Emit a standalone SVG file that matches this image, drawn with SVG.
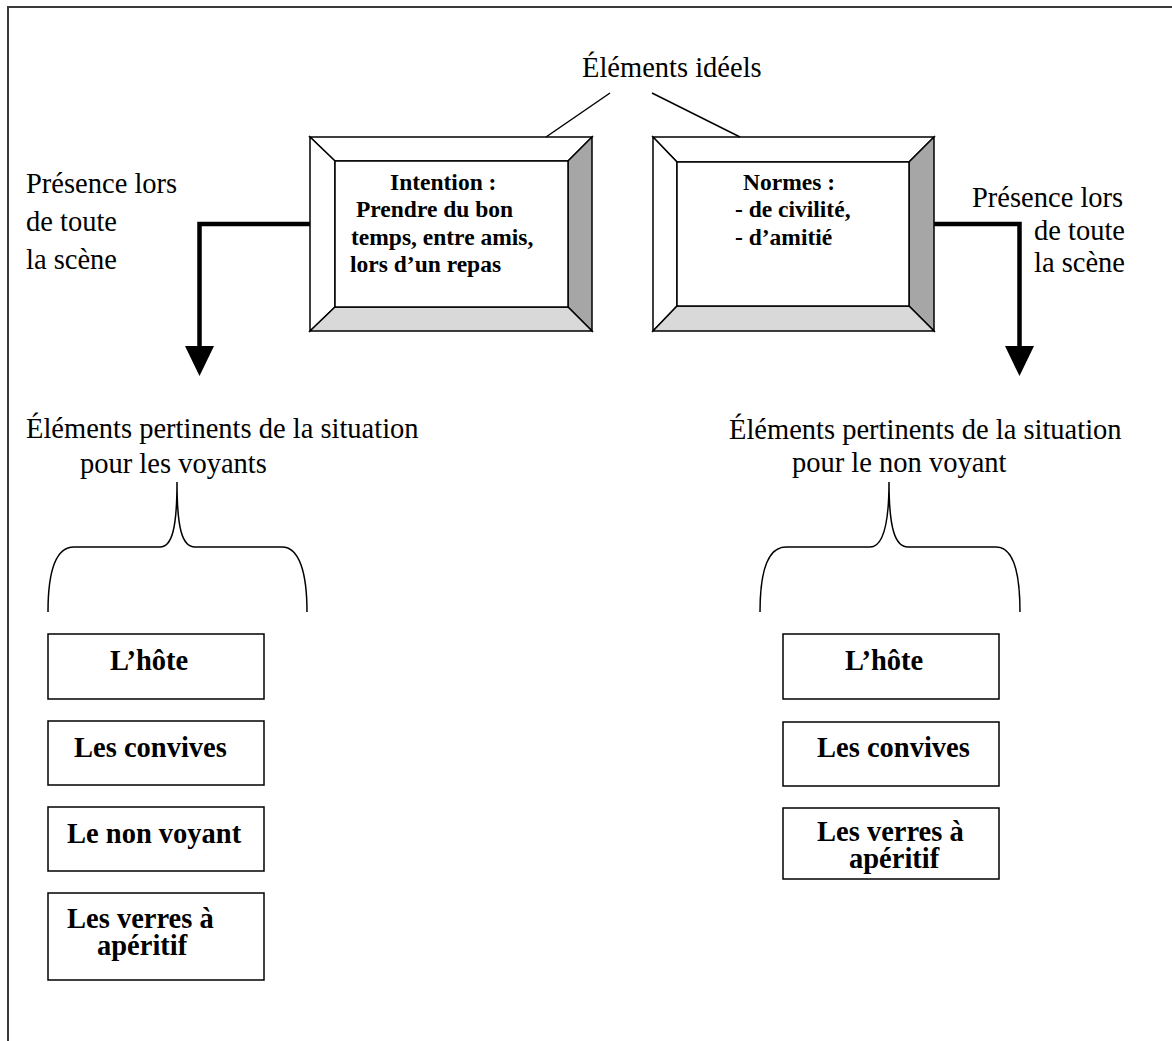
<svg xmlns="http://www.w3.org/2000/svg" width="1172" height="1041" viewBox="0 0 1172 1041">
<style>
.lbl{font-family:"Liberation Serif","Times New Roman",serif;font-size:28.5px;fill:#000}
.bt{font-family:"Liberation Serif","Times New Roman",serif;font-size:23.5px;font-weight:bold;fill:#000}
.bb{font-family:"Liberation Serif","Times New Roman",serif;font-size:28.5px;font-weight:bold;fill:#000}
.edge{stroke:#000;stroke-width:1.5;stroke-linejoin:miter}
.box{fill:#fff;stroke:#000;stroke-width:1.5}
.thick{fill:none;stroke:#000;stroke-width:4.5}
.thin{fill:none;stroke:#000;stroke-width:1.5}
</style>
<rect width="1172" height="1041" fill="#fff"/>
<path d="M8,1041 V7 H1172" fill="none" stroke="#3a3a3a" stroke-width="2"/>

<g id="title">
<text class="lbl" x="582" y="77">Éléments idéels</text>
</g>

<g id="box-intention">
<polygon class="edge" points="310,137 592,137 568,161 335,161" fill="#fff"/>
<polygon class="edge" points="310,137 335,161 335,307 310,331" fill="#fff"/>
<polygon class="edge" points="592,137 592,331 568,307 568,161" fill="#a6a6a6"/>
<polygon class="edge" points="310,331 335,307 568,307 592,331" fill="#d9d9d9"/>
<rect class="box" x="335" y="161" width="233" height="146"/>
<text class="bt" x="390" y="190">Intention :</text>
<text class="bt" x="356" y="217">Prendre du bon</text>
<text class="bt" x="351" y="245">temps, entre amis,</text>
<text class="bt" x="350" y="272">lors d’un repas</text>
</g>

<g id="box-normes">
<polygon class="edge" points="653,137 934,137 909,162 677,162" fill="#fff"/>
<polygon class="edge" points="653,137 677,162 677,306 653,331" fill="#fff"/>
<polygon class="edge" points="934,137 934,331 909,306 909,162" fill="#a6a6a6"/>
<polygon class="edge" points="653,331 677,306 909,306 934,331" fill="#d9d9d9"/>
<rect class="box" x="677" y="162" width="232" height="144"/>
<text class="bt" x="743" y="190">Normes :</text>
<text class="bt" x="735" y="217">- de civilité,</text>
<text class="bt" x="735" y="245">- d’amitié</text>
</g>

<g id="label-presence-left">
<text class="lbl" x="26" y="193">Présence lors</text>
<text class="lbl" x="26" y="231">de toute</text>
<text class="lbl" x="26" y="269">la scène</text>
</g>

<g id="label-presence-right">
<text class="lbl" x="972" y="207">Présence lors</text>
<text class="lbl" x="1034" y="240">de toute</text>
<text class="lbl" x="1034" y="272">la scène</text>
</g>

<g id="connectors">
<line class="thin" x1="610" y1="93" x2="546" y2="137"/>
<line class="thin" x1="652" y1="93" x2="740" y2="137"/>
<path class="thick" d="M310,224 H199.5 V347"/>
<polygon points="185,346 214,346 199.5,376" fill="#000"/>
<path class="thick" d="M934,224 H1019.5 V347"/>
<polygon points="1005,346 1034,346 1019.5,376" fill="#000"/>
<path class="thin" d="M48,612 C48,572 56,547 74,547 L160,547 C172,547 177,528 177,482 C177,528 182,547 195,547 L282,547 C299,547 307,572 307,612"/>
<path class="thin" d="M760,612 C760,572 768,547 786,547 L870,547 C882,547 889,528 889,482 C889,528 895,547 908,547 L996,547 C1013,547 1020,572 1020,612"/>
</g>

<g id="heading-left">
<text class="lbl" x="26" y="438">Éléments pertinents de la situation</text>
<text class="lbl" x="80" y="473">pour les voyants</text>
</g>

<g id="heading-right">
<text class="lbl" x="729" y="439">Éléments pertinents de la situation</text>
<text class="lbl" x="792" y="472">pour le non voyant</text>
</g>

<g id="left-hote"><rect class="box" x="48" y="634" width="216" height="65"/><text class="bb" x="110" y="670">L’hôte</text></g>
<g id="left-convives"><rect class="box" x="48" y="721" width="216" height="64"/><text class="bb" x="74" y="757">Les convives</text></g>
<g id="left-nonvoyant"><rect class="box" x="48" y="807" width="216" height="64"/><text class="bb" x="67" y="843">Le non voyant</text></g>
<g id="left-verres"><rect class="box" x="48" y="893" width="216" height="87"/><text class="bb" x="67" y="928">Les verres à</text><text class="bb" x="97" y="955">apéritif</text></g>

<g id="right-hote"><rect class="box" x="783" y="634" width="216" height="65"/><text class="bb" x="845" y="670">L’hôte</text></g>
<g id="right-convives"><rect class="box" x="783" y="722" width="216" height="64"/><text class="bb" x="817" y="757">Les convives</text></g>
<g id="right-verres"><rect class="box" x="783" y="808" width="216" height="71"/><text class="bb" x="817" y="841">Les verres à</text><text class="bb" x="849" y="868">apéritif</text></g>
</svg>
